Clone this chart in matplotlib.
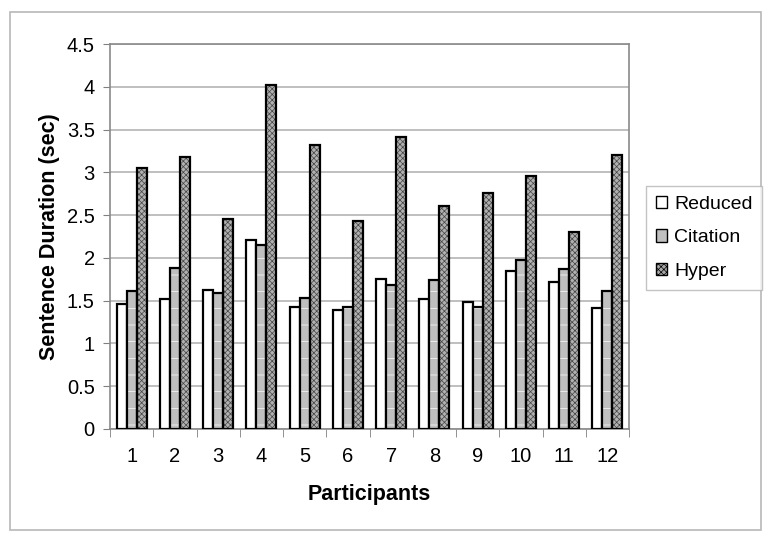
import numpy as np
import matplotlib.pyplot as plt
from matplotlib.patches import Patch, Rectangle

plt.rcParams['font.family'] = ['Liberation Sans', 'DejaVu Sans']
plt.rcParams['hatch.linewidth'] = 0.5

participants = ['1', '2', '3', '4', '5', '6', '7', '8', '9', '10', '11', '12']
reduced = [1.46, 1.52, 1.63, 2.21, 1.43, 1.39, 1.75, 1.52, 1.48, 1.85, 1.72, 1.41]
citation = [1.61, 1.88, 1.59, 2.15, 1.53, 1.43, 1.68, 1.74, 1.43, 1.97, 1.87, 1.61]
hyper = [3.05, 3.18, 2.46, 4.02, 3.32, 2.43, 3.41, 2.61, 2.76, 2.96, 2.30, 3.20]

fig = plt.figure(figsize=(7.74, 5.42), dpi=100)
fig.patches.append(Rectangle((10/774, 1-530/542), 751/774, 518/542, transform=fig.transFigure,
                             fill=False, edgecolor='#b8b8b8', lw=1.2))
ax = fig.add_axes([110/774, 1-429/542, 519/774, 385/542])

x = np.arange(1, 13)
w = 0.23
gridc = '#b4b4b4'

# reduced: plain white
ax.bar(x - w, reduced, w, color='white', edgecolor='black', lw=1.6, zorder=3)
# citation: grey with white dashes
ax.bar(x, citation, w, color='#c0c0c0', edgecolor='white', hatch='-', lw=0, zorder=3)
ax.bar(x, citation, w, fill=False, edgecolor='black', lw=1.6, zorder=4)
# hyper: checkered grey
ax.bar(x + w, hyper, w, color='#b0b0b0', edgecolor='#444444', hatch='xxxxxx', lw=0, zorder=3)
ax.bar(x + w, hyper, w, fill=False, edgecolor='black', lw=1.6, zorder=4)

ax.set_xlim(0.5, 12.5)
ax.set_ylim(0, 4.5)
ax.set_yticks(np.arange(0, 4.51, 0.5))
ax.set_yticklabels(['0', '0.5', '1', '1.5', '2', '2.5', '3', '3.5', '4', '4.5'])
ax.yaxis.grid(True, color=gridc, lw=1.2, zorder=0)
ax.set_axisbelow(True)

ax.set_xticks(x)
ax.set_xticklabels(participants)
ax.set_xticks(np.arange(0.5, 12.6, 1), minor=True)
ax.tick_params(axis='x', which='major', length=0, pad=13, labelsize=14.5)
ax.tick_params(axis='x', which='minor', length=6, color='#808080', direction='out')
ax.tick_params(axis='y', length=5, color='#808080', labelsize=14.5, pad=6)

for s in ax.spines.values():
    s.set_color('#8a8a8a')
    s.set_linewidth(1.2)

ax.set_xlabel('Participants', fontsize=15.5, fontweight='bold', labelpad=13)
ax.set_ylabel('Sentence Duration (sec)', fontsize=15.5, fontweight='bold', labelpad=5)

handles = [Patch(facecolor='white', edgecolor='black', label='Reduced'),
           Patch(facecolor='#c0c0c0', edgecolor='black', label='Citation'),
           Patch(facecolor='#a8a8a8', edgecolor='black', hatch='xxxxxx', label='Hyper')]
leg = fig.legend(handles=handles, loc='upper left', bbox_to_anchor=(646/774, 1-186/542),
                 fontsize=14, frameon=True, fancybox=False, edgecolor='#b4b4b4',
                 handlelength=0.6, handleheight=0.6, handletextpad=0.35,
                 labelspacing=0.85, borderpad=0.5, borderaxespad=0)
leg.get_frame().set_linewidth(1.0)

fig.savefig('out.png', dpi=100)
